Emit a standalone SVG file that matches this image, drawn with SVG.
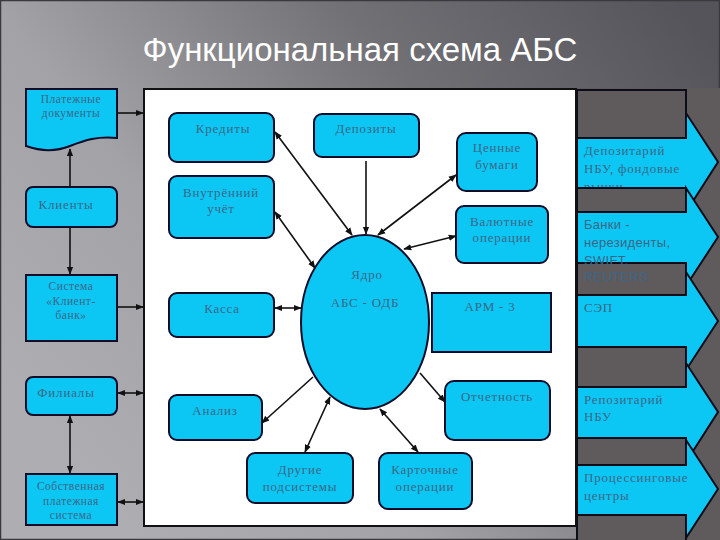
<svg xmlns="http://www.w3.org/2000/svg" width="720" height="540" viewBox="0 0 720 540">
<defs>
<linearGradient id="bg" x1="0" y1="0.7" x2="1" y2="0.1">
<stop offset="0" stop-color="#aeadb2"/>
<stop offset="0.3" stop-color="#a3a2a7"/>
<stop offset="0.65" stop-color="#727176"/>
<stop offset="1" stop-color="#55545a"/>
</linearGradient>
<marker id="ah" viewBox="0 0 10 10" refX="9" refY="5" markerWidth="8" markerHeight="8" markerUnits="userSpaceOnUse" orient="auto-start-reverse">
<path d="M0,1 L10,5 L0,9 z" fill="#111"/>
</marker>
<style>
.n{fill:#0cc6f4;stroke:#0d0d2a;stroke-width:2}
.t{font-family:"Liberation Serif","DejaVu Serif",serif;font-size:13px;letter-spacing:0.8px;fill:#3d6686;text-anchor:middle}
.sm{font-size:11.5px;letter-spacing:0.5px}
.r{font-family:"Liberation Serif","DejaVu Serif",serif;font-size:13px;letter-spacing:0.8px;fill:#3d6686}
.s{font-family:"Liberation Sans","DejaVu Sans",sans-serif;font-size:13px;letter-spacing:0.3px;fill:#3d6686}
.c{stroke:#111;stroke-width:1.6;fill:none}
.band{fill:#5f5b5d;stroke:#0d0d1a;stroke-width:2}
.arr{fill:#0cc6f4;stroke:#0d0d1a;stroke-width:2}
</style>
</defs>
<rect x="0" y="0" width="720" height="540" fill="url(#bg)"/>
<rect x="0.5" y="0.5" width="719" height="539" fill="none" stroke="#3a393e" stroke-width="1.5"/>
<text x="360" y="61" font-family="'Liberation Sans','DejaVu Sans',sans-serif" font-size="33" fill="#ffffff" text-anchor="middle">Функциональная схема АБС</text>

<!-- right strip -->
<g id="right-strip">
<rect x="577" y="88" width="143" height="452" fill="#5f5b5d"/>
<rect class="band" x="577" y="90" width="109" height="48"/>
<g id="arrow-depozitariy">
<path class="arr" d="M577,138 H686 V113 L718,162 L686,212 V188 H577 Z"/>
<text class="r"><tspan x="584" y="155">Депозитарий</tspan><tspan x="584" y="173">НБУ, фондовые</tspan><tspan x="584" y="191">рынки</tspan></text>
</g>
<rect class="band" x="577" y="188" width="109" height="24"/>
<g id="arrow-banki">
<path class="arr" d="M577,212 H686 V188 L718,237 L686,286 V263 H577 Z"/>
</g>
<rect class="band" x="577" y="263" width="109" height="32"/>
<text class="s"><tspan x="584" y="229">Банки -</tspan><tspan x="584" y="247">нерезиденты,</tspan><tspan x="584" y="265">SWIFT,</tspan><tspan x="584" y="281">REUTERS</tspan></text>
<g id="arrow-sep">
<path class="arr" d="M577,295 H686 V272 L718,321 L686,370 V347 H577 Z"/>
<text class="r" x="584" y="312">СЭП</text>
</g>
<rect class="band" x="577" y="347" width="109" height="40"/>
<g id="arrow-repozitariy">
<path class="arr" d="M577,387 H686 V363 L718,412 L686,462 V438 H577 Z"/>
<text class="r"><tspan x="584" y="404">Репозитарий</tspan><tspan x="584" y="421">НБУ</tspan></text>
</g>
<rect class="band" x="577" y="438" width="109" height="27"/>
<g id="arrow-processing">
<path class="arr" d="M577,465 H686 V440 L718,489 L686,538 V515 H577 Z"/>
<text class="r"><tspan x="584" y="482">Процессинговые</tspan><tspan x="584" y="500">центры</tspan></text>
</g>
<rect class="band" x="577" y="515" width="109" height="26"/>
</g>

<!-- panel -->
<rect id="panel" x="144" y="89" width="432" height="437" fill="#ffffff" stroke="#111" stroke-width="2"/>

<!-- left column -->
<g id="platezhnye">
<path class="n" d="M26,89 H117 V138 C98,136 85,140 70,146 C55,152 40,151 26,146 Z"/>
<text class="t sm"><tspan x="71" y="103">Платежные</tspan><tspan x="71" y="117">документы</tspan></text>
</g>
<g id="klienty">
<rect class="n" x="26" y="187" width="91" height="40" rx="7"/>
<text class="t" x="66" y="209">Клиенты</text>
</g>
<g id="klient-bank">
<rect class="n" x="26" y="275" width="91" height="66"/>
<text class="t sm"><tspan x="71" y="290">Система</tspan><tspan x="71" y="305">«Клиент-</tspan><tspan x="71" y="319">банк»</tspan></text>
</g>
<g id="filialy">
<rect class="n" x="26" y="377" width="91" height="38" rx="7"/>
<text class="t" x="66" y="397">Филиалы</text>
</g>
<g id="sobstv">
<rect class="n" x="26" y="474" width="91" height="51"/>
<text class="t sm"><tspan x="71" y="490">Собственная</tspan><tspan x="71" y="505">платежная</tspan><tspan x="71" y="519">система</tspan></text>
</g>

<!-- inner nodes -->
<g id="kredity"><rect class="n" x="169" y="113" width="105" height="49" rx="8"/><text class="t" x="223" y="133">Кредиты</text></g>
<g id="depozity"><rect class="n" x="314" y="114" width="105" height="43" rx="8"/><text class="t" x="366" y="133">Депозиты</text></g>
<g id="vnutr"><rect class="n" x="169" y="176" width="105" height="62" rx="8"/><text class="t"><tspan x="221" y="197">Внутрённий</tspan><tspan x="221" y="213">учёт</tspan></text></g>
<g id="cennye"><rect class="n" x="457" y="133" width="80" height="58" rx="9"/><text class="t"><tspan x="497" y="152">Ценные</tspan><tspan x="497" y="169">бумаги</tspan></text></g>
<g id="valyut"><rect class="n" x="456" y="206" width="92" height="57" rx="8"/><text class="t"><tspan x="502" y="226">Валютные</tspan><tspan x="502" y="242">операции</tspan></text></g>
<g id="yadro"><ellipse class="n" cx="365" cy="322" rx="64" ry="87"/><text class="t" x="367" y="279">Ядро</text><text class="t" x="365" y="307">АБС - ОДБ</text></g>
<g id="kassa"><rect class="n" x="169" y="293" width="105" height="44" rx="8"/><text class="t" x="222" y="313">Касса</text></g>
<g id="arm"><rect class="n" x="432" y="293" width="119" height="59"/><text class="t" x="490" y="311">АРМ - 3</text></g>
<g id="analiz"><rect class="n" x="169" y="395" width="93" height="45" rx="8"/><text class="t" x="215" y="415">Анализ</text></g>
<g id="otchet"><rect class="n" x="445" y="381" width="105" height="59" rx="9"/><text class="t" x="497" y="401">Отчетность</text></g>
<g id="drugie"><rect class="n" x="247" y="453" width="106" height="50" rx="8"/><text class="t"><tspan x="300" y="474">Другие</tspan><tspan x="300" y="491">подсистемы</tspan></text></g>
<g id="kartoch"><rect class="n" x="379" y="453" width="93" height="56" rx="9"/><text class="t"><tspan x="425" y="474">Карточные</tspan><tspan x="425" y="491">операции</tspan></text></g>

<!-- connectors -->
<g id="connectors">
<line class="c" x1="117" y1="113" x2="143" y2="113" marker-end="url(#ah)"/>
<line class="c" x1="70" y1="187" x2="70" y2="149" marker-end="url(#ah)"/>
<line class="c" x1="70" y1="227" x2="70" y2="274" marker-end="url(#ah)"/>
<line class="c" x1="117" y1="307" x2="143" y2="307" marker-end="url(#ah)"/>
<line class="c" x1="118" y1="393" x2="143" y2="393" marker-start="url(#ah)" marker-end="url(#ah)"/>
<line class="c" x1="70" y1="416" x2="70" y2="473" marker-start="url(#ah)" marker-end="url(#ah)"/>
<line class="c" x1="118" y1="502" x2="143" y2="502" marker-start="url(#ah)" marker-end="url(#ah)"/>

<line class="c" x1="275" y1="132" x2="352" y2="235" marker-start="url(#ah)" marker-end="url(#ah)"/>
<line class="c" x1="366" y1="161" x2="366" y2="234" marker-end="url(#ah)"/>
<line class="c" x1="456" y1="175" x2="378" y2="235" marker-start="url(#ah)" marker-end="url(#ah)"/>
<line class="c" x1="456" y1="236" x2="404" y2="249" marker-start="url(#ah)" marker-end="url(#ah)"/>
<line class="c" x1="275" y1="212" x2="315" y2="268" marker-start="url(#ah)" marker-end="url(#ah)"/>
<line class="c" x1="275" y1="308" x2="301" y2="308" marker-start="url(#ah)" marker-end="url(#ah)"/>
<line class="c" x1="313" y1="377" x2="262" y2="423" marker-end="url(#ah)"/>
<line class="c" x1="305" y1="452" x2="330" y2="397" marker-start="url(#ah)" marker-end="url(#ah)"/>
<line class="c" x1="418" y1="452" x2="380" y2="409" marker-start="url(#ah)" marker-end="url(#ah)"/>
<line class="c" x1="420" y1="373" x2="445" y2="402" marker-end="url(#ah)"/>
</g>
</svg>
